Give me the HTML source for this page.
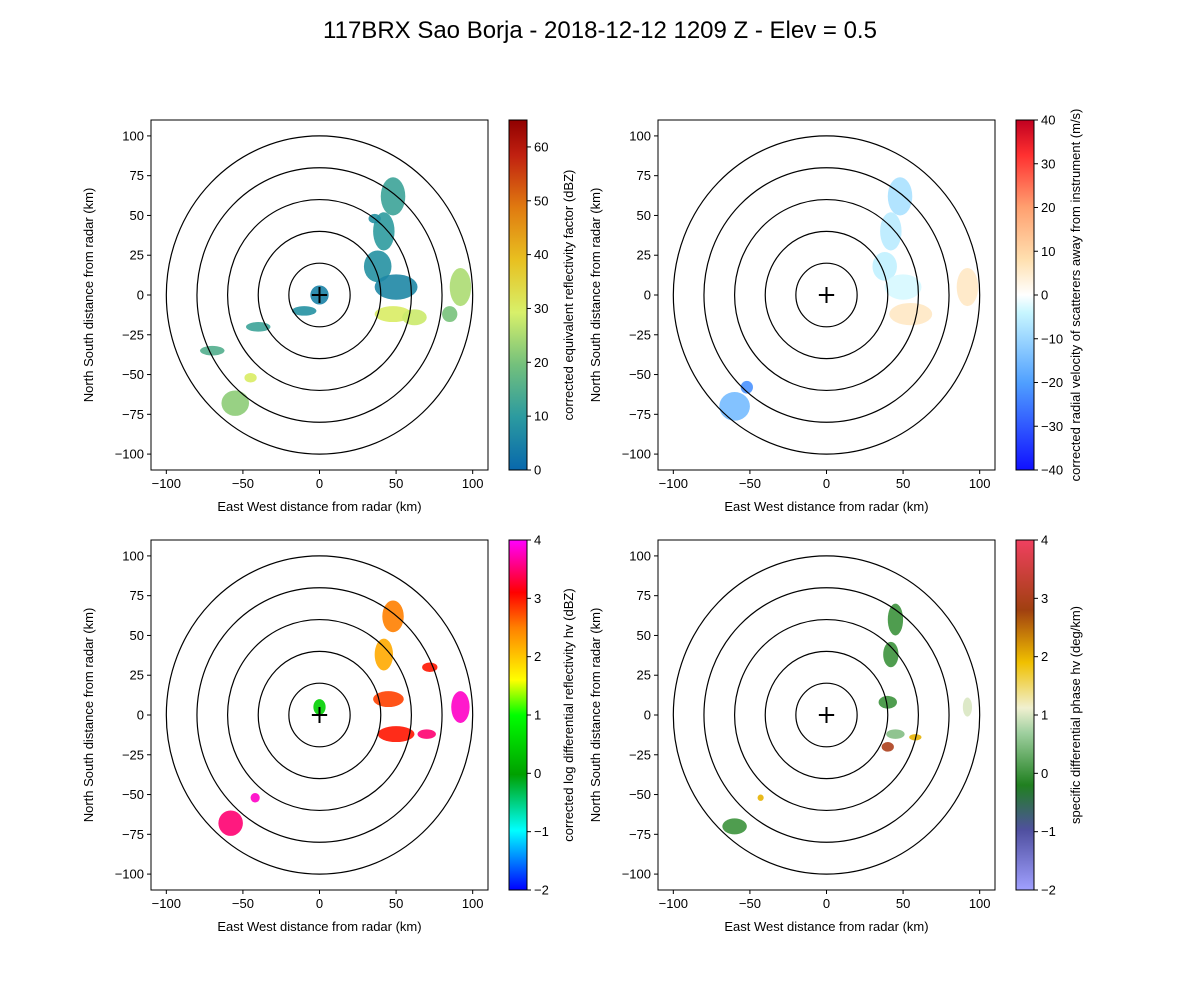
<!DOCTYPE html>
<html><head><meta charset="utf-8">
<style>
body{margin:0;background:#fff;}
svg text{font-family:"Liberation Sans",sans-serif;fill:#000;}
</style></head>
<body>
<svg id="fig" width="1200" height="1000" xmlns="http://www.w3.org/2000/svg">
<defs>
<linearGradient id="cm-ref" x1="0" y1="1" x2="0" y2="0">
<stop offset="0" stop-color="#0868ac"/><stop offset="0.15" stop-color="#2b9aa0"/><stop offset="0.3" stop-color="#73c07c"/><stop offset="0.45" stop-color="#d8f06a"/><stop offset="0.6" stop-color="#e8c020"/><stop offset="0.75" stop-color="#e07a10"/><stop offset="0.9" stop-color="#c02010"/><stop offset="1" stop-color="#900000"/>
</linearGradient>
<linearGradient id="cm-vel" x1="0" y1="1" x2="0" y2="0">
<stop offset="0" stop-color="#1010ff"/><stop offset="0.25" stop-color="#50a0ff"/><stop offset="0.45" stop-color="#c8f6ff"/><stop offset="0.5" stop-color="#ffffff"/><stop offset="0.6" stop-color="#ffe0b0"/><stop offset="0.75" stop-color="#ffa070"/><stop offset="0.9" stop-color="#ff3030"/><stop offset="1" stop-color="#c00020"/>
</linearGradient>
<linearGradient id="cm-zdr" x1="0" y1="1" x2="0" y2="0">
<stop offset="0" stop-color="#0000ff"/><stop offset="0.17" stop-color="#00ffff"/><stop offset="0.33" stop-color="#00a000"/><stop offset="0.5" stop-color="#00ff00"/><stop offset="0.6" stop-color="#ffff00"/><stop offset="0.75" stop-color="#ff8000"/><stop offset="0.85" stop-color="#ff0000"/><stop offset="1" stop-color="#ff00ff"/>
</linearGradient>
<linearGradient id="cm-kdp" x1="0" y1="1" x2="0" y2="0">
<stop offset="0" stop-color="#a0a0ff"/><stop offset="0.17" stop-color="#5050a0"/><stop offset="0.3" stop-color="#208020"/><stop offset="0.45" stop-color="#a0d0a0"/><stop offset="0.52" stop-color="#f0f0d0"/><stop offset="0.65" stop-color="#f0c000"/><stop offset="0.8" stop-color="#a04010"/><stop offset="1" stop-color="#f04060"/>
</linearGradient>
</defs>
<text x="600" y="38" font-size="24" text-anchor="middle">117BRX Sao Borja - 2018-12-12 1209 Z -  Elev = 0.5</text>
</svg>
<script>
// echo data arrays: [x km, y km, rx km, ry km, value]
const refEchoes=[[48,62,8,12,12],[42,40,7,12,10],[38,18,9,10,8],[50,5,14,8,6],[48,-12,12,5,30],[62,-14,8,5,28],[92,5,7,12,25],[85,-12,5,5,20],[-55,-68,9,8,22],[-45,-52,4,3,30],[-70,-35,8,3,15],[-40,-20,8,3,12],[-10,-10,8,3,8],[0,0,6,6,5],[36,48,4,3,8]];
const refVals=[0,10,20,30,40,50,60];
const velEchoes=[[48,62,8,12,-8],[42,40,7,12,-6],[38,18,8,9,-5],[50,5,12,8,-3],[55,-12,14,7,6],[92,5,7,12,6],[-60,-70,10,9,-15],[-52,-58,4,4,-22]];
const velVals=[-40,-30,-20,-10,0,10,20,30,40];
const zdrEchoes=[[48,62,7,10,2.5],[42,38,6,10,2.2],[45,10,10,5,2.8],[50,-12,12,5,3],[70,-12,6,3,3.5],[72,30,5,3,3],[92,5,6,10,3.8],[-58,-68,8,8,3.5],[-42,-52,3,3,3.8],[0,5,4,5,0.5]];
const zdrVals=[-2,-1,0,1,2,3,4];
const kdpEchoes=[[45,60,5,10,0],[42,38,5,8,0],[40,8,6,4,0],[45,-12,6,3,0.5],[40,-20,4,3,3],[58,-14,4,2,2],[92,5,3,6,1],[-60,-70,8,5,0],[-43,-52,2,2,2]];
const kdpVals=[-2,-1,0,1,2,3,4];
const axTicks=[-100,-75,-50,-25,0,25,50,75,100];
const xTicks=[-100,-50,0,50,100];
const rings=[20,40,60,80,100];

const NS="http://www.w3.org/2000/svg";
const svg=document.getElementById('fig');
function mk(tag,attrs,parent){const e=document.createElementNS(NS,tag);for(const k in attrs)e.setAttribute(k,attrs[k]);(parent||svg).appendChild(e);return e;}
function interp(stops,t){t=Math.max(0,Math.min(1,t));for(let i=1;i<stops.length;i++){if(t<=stops[i][0]){const a=stops[i-1],b=stops[i];const f=(t-a[0])/(b[0]-a[0]||1);const c=[0,1,2].map(j=>Math.round(a[1][j]+(b[1][j]-a[1][j])*f));return`rgb(${c})`;}}return`rgb(${stops[stops.length-1][1]})`;}
const cmaps={
ref:[[0,[8,104,172]],[0.15,[43,154,160]],[0.3,[115,192,124]],[0.45,[216,240,106]],[0.6,[232,192,32]],[0.75,[224,122,16]],[0.9,[192,32,16]],[1,[144,0,0]]],
vel:[[0,[16,16,255]],[0.25,[80,160,255]],[0.45,[200,246,255]],[0.5,[255,255,255]],[0.6,[255,224,176]],[0.75,[255,160,112]],[0.9,[255,48,48]],[1,[192,0,32]]],
zdr:[[0,[0,0,255]],[0.17,[0,255,255]],[0.33,[0,160,0]],[0.5,[0,255,0]],[0.6,[255,255,0]],[0.75,[255,128,0]],[0.85,[255,0,0]],[1,[255,0,255]]],
kdp:[[0,[160,160,255]],[0.17,[80,80,160]],[0.3,[32,128,32]],[0.45,[160,208,160]],[0.52,[240,240,208]],[0.65,[240,192,0]],[0.8,[160,64,16]],[1,[240,64,96]]]};

function panel(ox,oy,echoes,vals,cm,grad,label,name){
  const L=ox,T=oy,W=337,H=350;
  const sx=v=>L+(v+110)/220*W, sy=v=>T+H-(v+110)/220*H;
  const g=mk('g',{});
  
  
  const clip=mk('clipPath',{id:'c'+name},g);mk('rect',{x:L,y:T,width:W,height:H},clip);
  const eg=mk('g',{'clip-path':'url(#c'+name+')'},g);
  const lo=vals[0],hi=vals[vals.length-1];
  const top=cm==='ref'?65:hi;
  echoes.forEach((e,i)=>{
    const el=mk('ellipse',{cx:sx(e[0]),cy:sy(e[1]),rx:e[2]/220*W,ry:e[3]/220*H,fill:interp(cmaps[cm],(e[4]-lo)/(top-lo)),opacity:0.9},eg);
    
    
  });
  rings.forEach(r=>{mk('ellipse',{cx:sx(0),cy:sy(0),rx:r/220*W,ry:r/220*H,fill:'none',stroke:'#000','stroke-width':1.2},g);});
  mk('path',{d:`M${sx(-5)},${sy(0)}H${sx(5)}M${sx(0)},${sy(-5)}V${sy(5)}`,stroke:'#000','stroke-width':2},g);
  mk('rect',{x:L,y:T,width:W,height:H,fill:'none',stroke:'#000','stroke-width':1},g);
  xTicks.forEach(t=>{const x=sx(t);mk('line',{x1:x,x2:x,y1:T+H,y2:T+H+4,stroke:'#000'},g);const tx=mk('text',{x:x,y:T+H+18,'font-size':13,'text-anchor':'middle'},g);tx.textContent=t<0?'\u2212'+(-t):t;});
  axTicks.forEach(t=>{const y=sy(t);mk('line',{x1:L-4,x2:L,y1:y,y2:y,stroke:'#000'},g);const tx=mk('text',{x:L-7,y:y+4.5,'font-size':13,'text-anchor':'end'},g);tx.textContent=t<0?'\u2212'+(-t):t;});
  const xl=mk('text',{x:L+W/2,y:T+H+41,'font-size':13,'text-anchor':'middle'},g);xl.textContent='East West distance from radar (km)';
  
  const yl=mk('text',{x:0,y:0,'font-size':13,'text-anchor':'middle',transform:`translate(${L-58},${T+H/2}) rotate(-90)`},g);yl.textContent='North South distance from radar (km)';
  
  const cx=L+358,cw=18;
  const cb=mk('rect',{x:cx,y:T,width:cw,height:H,fill:`url(#${grad})`,stroke:'#000','stroke-width':1},g);
  
  vals.forEach(v=>{const y=T+H-(v-lo)/(top-lo)*H;mk('line',{x1:cx+cw,x2:cx+cw+4,y1:y,y2:y,stroke:'#000'},g);const tx=mk('text',{x:cx+cw+7,y:y+4.5,'font-size':13},g);tx.textContent=v<0?'\u2212'+(-v):v;});
  const cl=mk('text',{x:0,y:0,'font-size':13,'text-anchor':'middle',transform:`translate(${cx+cw+46},${T+H/2}) rotate(-90)`},g);cl.textContent=label;
  
}
panel(151,120,refEchoes,refVals,'ref','cm-ref','corrected equivalent reflectivity factor (dBZ)','reflectivity');
panel(658,120,velEchoes,velVals,'vel','cm-vel','corrected radial velocity of scatterers away from instrument (m/s)','velocity');
panel(151,540,zdrEchoes,zdrVals,'zdr','cm-zdr','corrected log differential reflectivity hv (dBZ)','zdr');
panel(658,540,kdpEchoes,kdpVals,'kdp','cm-kdp','specific differential phase hv (deg/km)','kdp');
</script>
</body></html>
